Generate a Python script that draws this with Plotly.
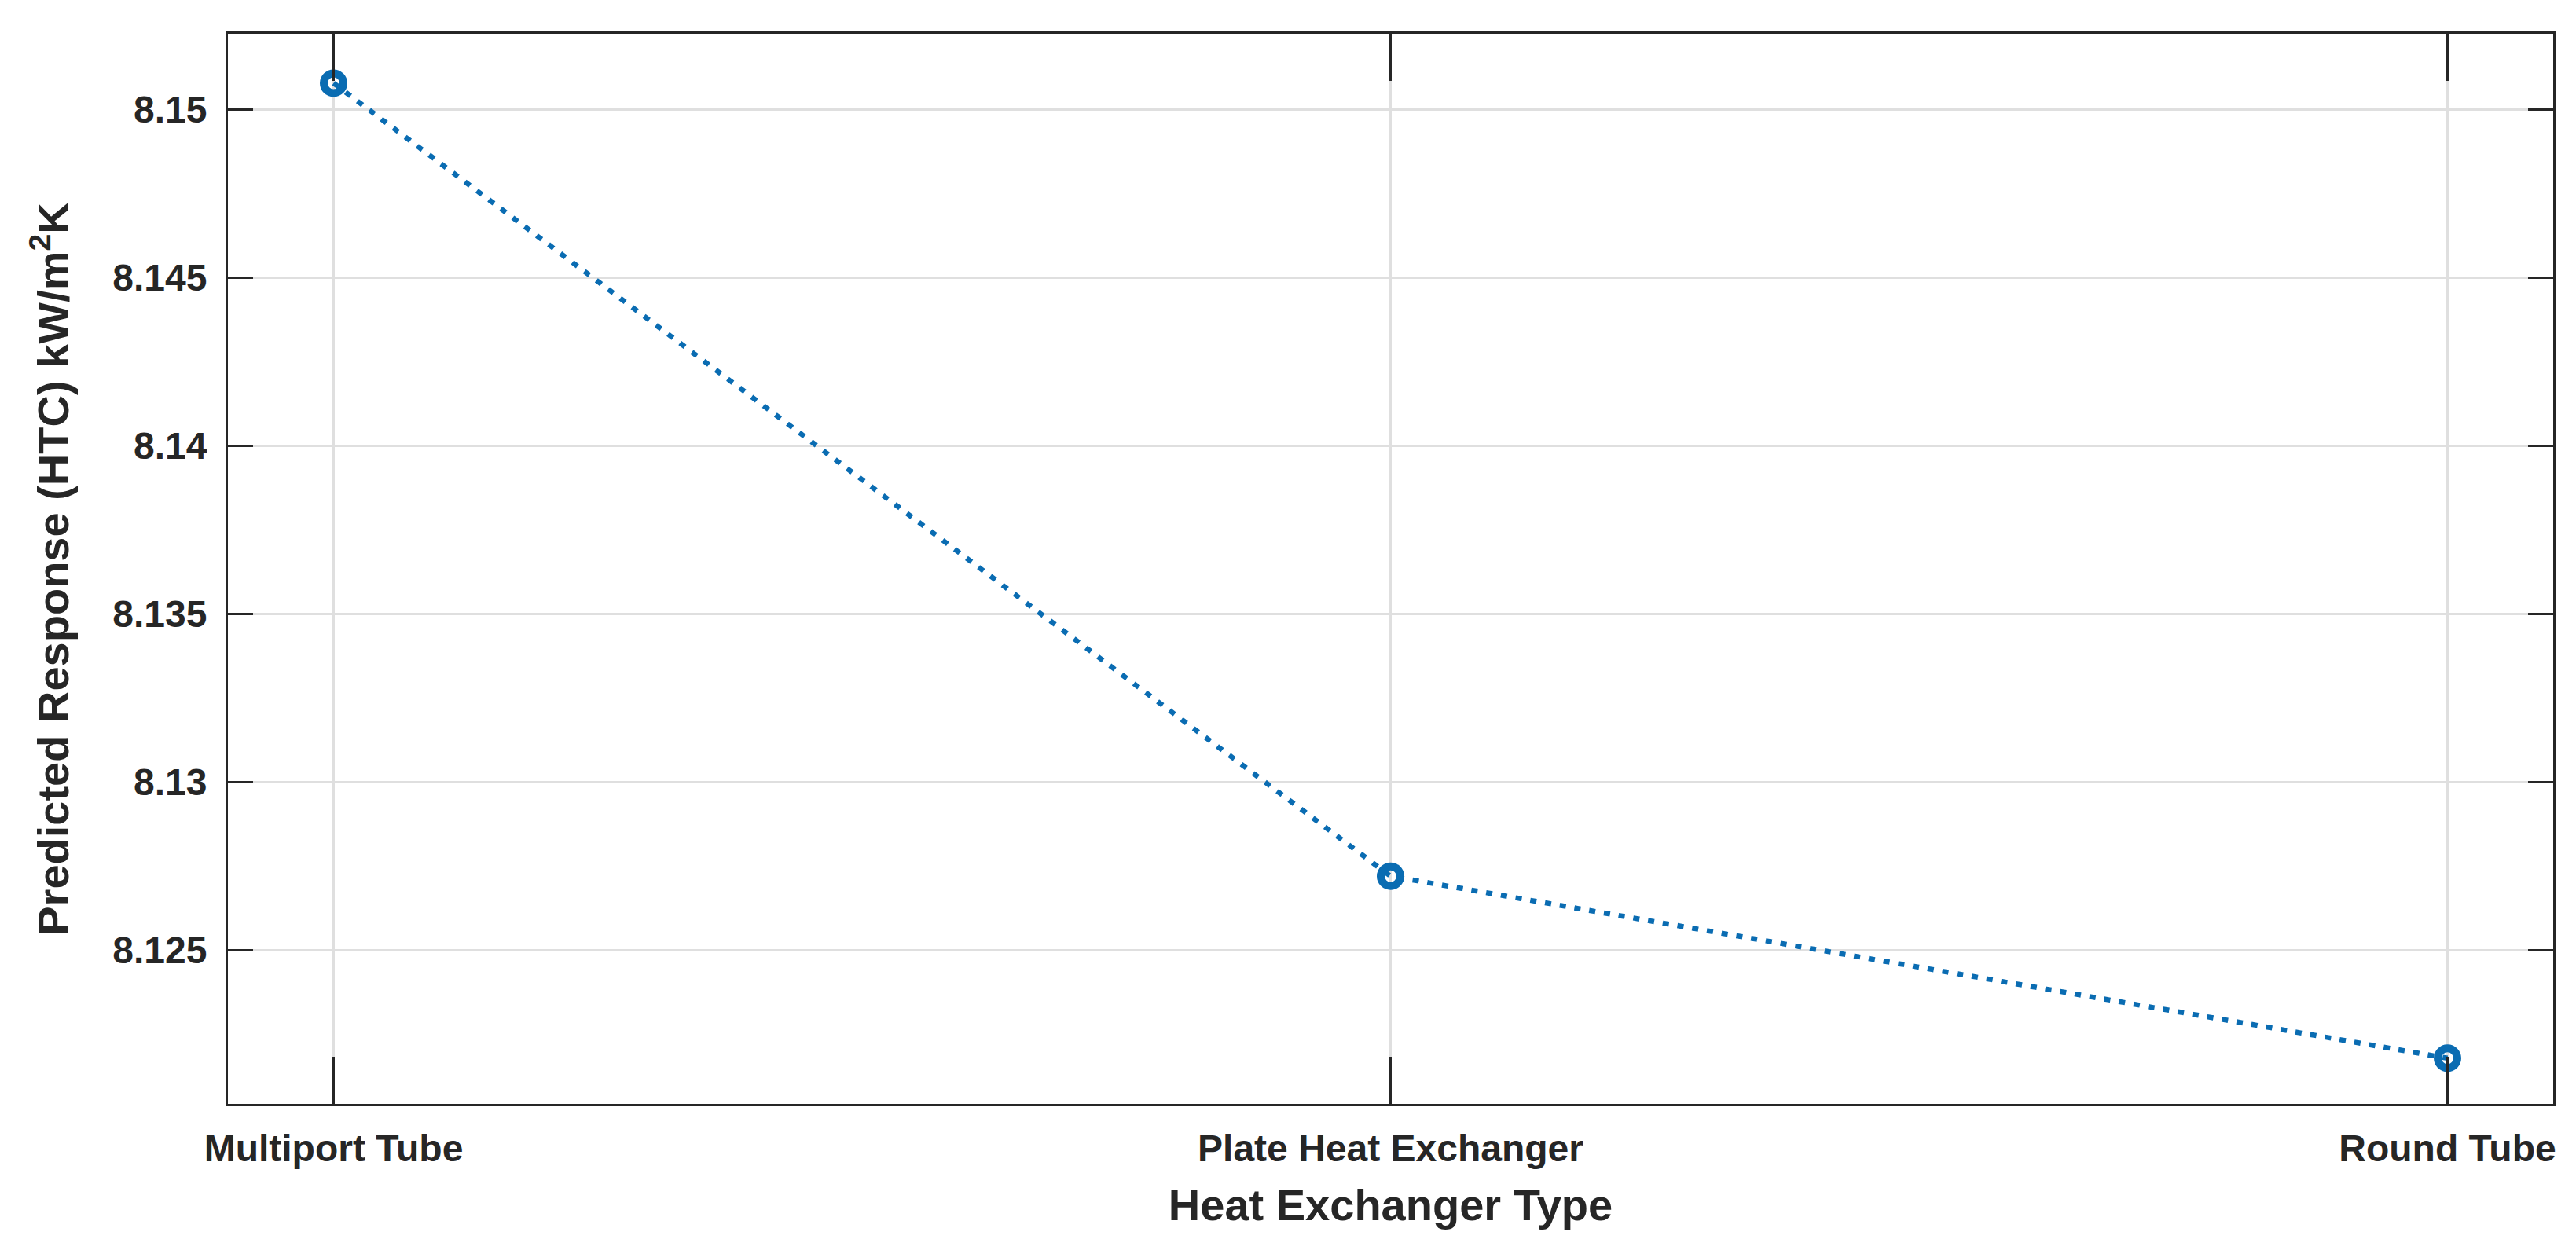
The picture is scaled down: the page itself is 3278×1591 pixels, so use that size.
import plotly.graph_objects as go

# Data
categories = ["Multiport Tube", "Plate Heat Exchanger", "Round Tube"]
htc_values = [8.15078, 8.1272, 8.12179]
y_tick_values = [8.125, 8.13, 8.135, 8.14, 8.145, 8.15]
y_tick_labels = ["8.125", "8.13", "8.135", "8.14", "8.145", "8.15"]

x_title = "Heat Exchanger Type"
y_title = "Predicted Response (HTC) kW/m<sup>2</sup>K"

AX = "#262626"
GRID = "#dfdfdf"
BLUE = "#0a6cb2"
FONT = "Liberation Sans"

fig = go.Figure()
fig.add_trace(go.Scatter(
    x=categories,
    y=htc_values,
    mode="lines+markers",
    line=dict(color=BLUE, width=6.5, dash="8px,11px"),
    marker=dict(symbol="circle-open", size=25, color=BLUE,
                line=dict(color=BLUE, width=10)),
    showlegend=False,
))

fig.update_layout(
    width=3278,
    height=1591,
    margin=dict(l=290, r=29, t=43, b=186, pad=0),
    paper_bgcolor="white",
    plot_bgcolor="white",
    font=dict(family=FONT, color=AX, size=48, weight="bold"),
)

fig.update_xaxes(
    type="category",
    range=[-0.1, 2.1],
    showline=True, linecolor=AX, linewidth=3, mirror="ticks",
    ticks="inside", ticklen=60, tickwidth=3, tickcolor=AX,
    showgrid=True, gridcolor=GRID, gridwidth=3,
    zeroline=False,
    tickfont=dict(family=FONT, size=48, color=AX, weight="bold"),
    ticklabelstandoff=12,
    title=dict(text=x_title, font=dict(family=FONT, size=56, color=AX, weight="bold"),
               standoff=28),
)

fig.update_yaxes(
    range=[8.12043, 8.15225],
    tickvals=y_tick_values,
    ticktext=y_tick_labels,
    showline=True, linecolor=AX, linewidth=3, mirror="ticks",
    ticks="inside", ticklen=32, tickwidth=3, tickcolor=AX,
    showgrid=True, gridcolor=GRID, gridwidth=3,
    zeroline=False,
    tickfont=dict(family=FONT, size=48, color=AX, weight="bold"),
    ticklabelstandoff=14,
    title=dict(text=y_title, font=dict(family=FONT, size=56, color=AX, weight="bold"),
               standoff=38),
)

fig.write_html(
    "out.html",
    config={"displayModeBar": False},
    post_script="document.body.style.margin='0';document.body.style.overflow='hidden';",
)
